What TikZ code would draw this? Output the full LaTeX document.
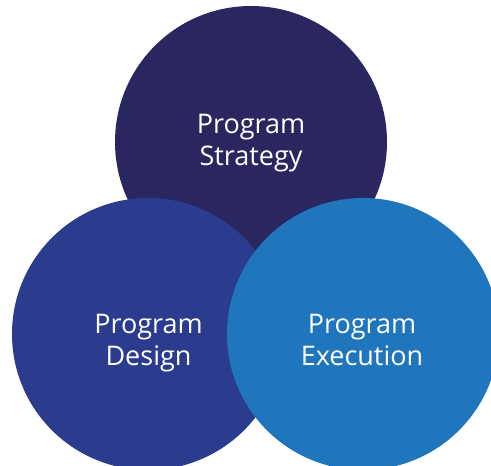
\documentclass[tikz,border=0pt]{standalone}
\usepackage{fontspec}
\setmainfont{Open Sans}
\definecolor{cstrat}{HTML}{2A2760}
\definecolor{cdesign}{HTML}{2B3B8D}
\definecolor{cexec}{HTML}{1F76BC}
\tikzset{
  venn/.style={circle, inner sep=0pt, minimum size=272pt},
  lbl/.style={text=white, anchor=base, inner sep=0pt, font=\fontsize{27}{32}\selectfont}
}
\begin{document}
\begin{tikzpicture}[x=1pt,y=-1pt]
\useasboundingbox (0,0) rectangle (491,466);
\begin{scope}
\clip (0,0) rectangle (491,466);
\node[venn, fill=cstrat] (strategy) at (251,142) {};
\node[venn, fill=cdesign] (design) at (148,334) {};
\node[venn, fill=cexec] (execution) at (363,334) {};
\end{scope}
\node[lbl] (s1) at (251,133) {Program};
\node[lbl] (s2) at (251,165) {Strategy};
\node[lbl] (d1) at (148.5,333) {Program};
\node[lbl] (d2) at (148.5,365) {Design};
\node[lbl] (e1) at (362,333) {Program};
\node[lbl] (e2) at (362,365) {Execution};
\end{tikzpicture}
\end{document}
